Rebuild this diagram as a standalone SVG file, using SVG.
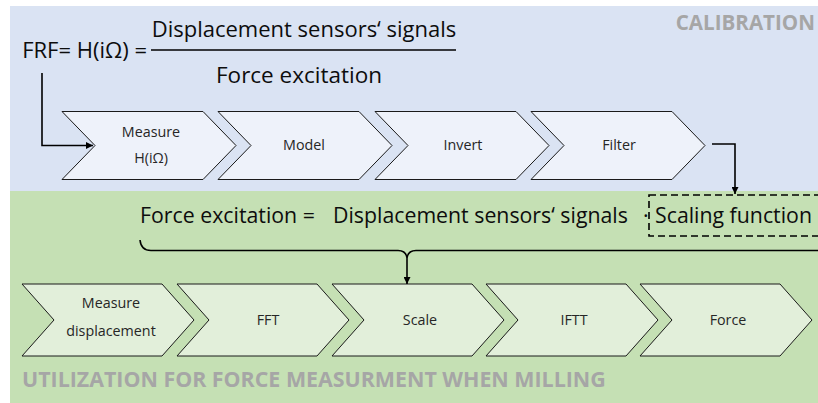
<svg xmlns="http://www.w3.org/2000/svg" width="818" height="403" viewBox="0 0 818 403">
<defs>
<style>
.bg1{fill:#dae3f3}
.bg2{fill:#c5e0b4}
.chb{fill:#eef2fa;stroke:#1a1a1a;stroke-width:1}
.chg{fill:#e2efda;stroke:#1a1a1a;stroke-width:1}
.lbl{font-family:"Open Sans","Liberation Sans",sans-serif;font-size:14.3px;fill:#262626;text-anchor:middle}
.eq{font-family:"Open Sans","Liberation Sans",sans-serif;fill:#0d0d0d}
.sec{font-family:"Open Sans","Liberation Sans",sans-serif;font-weight:bold;fill:#a6a6a6;font-size:21.4px}
.con{fill:none;stroke:#000;stroke-width:1.6}
</style>
<marker id="ah" viewBox="0 0 10 10" refX="10" refY="5" markerWidth="7" markerHeight="7" markerUnits="userSpaceOnUse" orient="auto">
<path d="M0,0 L10,5 L0,10 z" fill="#000"/>
</marker>
</defs>
<rect x="0" y="0" width="818" height="403" fill="#ffffff"/>
<rect class="bg1" x="10" y="6" width="808" height="185"/>
<rect class="bg2" x="10" y="191" width="808" height="212"/>
<text class="sec" x="815" y="30" font-size="20.6" text-anchor="end" style="font-size:20.6px">CALIBRATION</text>
<text class="sec" x="22" y="387">UTILIZATION FOR FORCE MEASURMENT WHEN MILLING</text>
<g id="formula-frf">
<text class="eq" x="147" y="58" font-size="22" text-anchor="end">FRF= H(iΩ) =</text>
<line x1="151" y1="50" x2="456" y2="50" stroke="#000" stroke-width="1.6"/>
<text class="eq" x="304" y="37" font-size="22" text-anchor="middle">Displacement sensors‘ signals</text>
<text class="eq" x="299" y="83" font-size="22.5" text-anchor="middle">Force excitation</text>
</g>
<g id="formula-force">
<text class="eq" font-size="21.3" y="223"><tspan x="140">Force excitation =</tspan><tspan x="333">Displacement sensors‘ signals</tspan><tspan x="643">·</tspan><tspan x="655">Scaling function</tspan></text>
<rect x="649" y="195" width="180" height="41" fill="none" stroke="#000" stroke-width="1.6" stroke-dasharray="7,4"/>
</g>
<g id="measure-h">
<polygon class="chb" points="62,111.5 203,111.5 236,145.5 203,179.5 62,179.5 95,145.5"/>
<text class="lbl" x="151" y="137">Measure</text>
<text class="lbl" x="151" y="163">H(iΩ)</text>
</g>
<g id="model">
<polygon class="chb" points="218,111.5 359,111.5 392,145.5 359,179.5 218,179.5 251,145.5"/>
<text class="lbl" x="304" y="150">Model</text>
</g>
<g id="invert">
<polygon class="chb" points="375,111.5 516,111.5 549,145.5 516,179.5 375,179.5 408,145.5"/>
<text class="lbl" x="463" y="150">Invert</text>
</g>
<g id="filter">
<polygon class="chb" points="531,111.5 672,111.5 705,145.5 672,179.5 531,179.5 564,145.5"/>
<text class="lbl" x="619" y="150">Filter</text>
</g>
<g id="measure-displacement">
<polygon class="chg" points="22,284 162,284 194,320 162,356 22,356 54,320"/>
<text class="lbl" x="111" y="308">Measure</text>
<text class="lbl" x="111" y="336">displacement</text>
</g>
<g id="fft">
<polygon class="chg" points="177,284 317,284 349,320 317,356 177,356 209,320"/>
<text class="lbl" x="268" y="325">FFT</text>
</g>
<g id="scale">
<polygon class="chg" points="332,284 472,284 504,320 472,356 332,356 364,320"/>
<text class="lbl" x="420" y="325">Scale</text>
</g>
<g id="iftt">
<polygon class="chg" points="486,284 626,284 658,320 626,356 486,356 518,320"/>
<text class="lbl" x="574" y="325">IFTT</text>
</g>
<g id="force">
<polygon class="chg" points="640,284 780,284 812,320 780,356 640,356 672,320"/>
<text class="lbl" x="728" y="325">Force</text>
</g>
<g id="connectors">
<path class="con" d="M42,73 L42,145.5 L93,145.5" marker-end="url(#ah)"/>
<path class="con" d="M712,144 L735,144 L735,194" marker-end="url(#ah)"/>
<path class="con" d="M140,240 Q141,250.5 151,250.5 L398,250.5 Q406,250.5 407,258 Q408,250.5 416,250.5 L820,250.5"/>
<path class="con" d="M407,258 L407,284" marker-end="url(#ah)"/>
</g>
</svg>
